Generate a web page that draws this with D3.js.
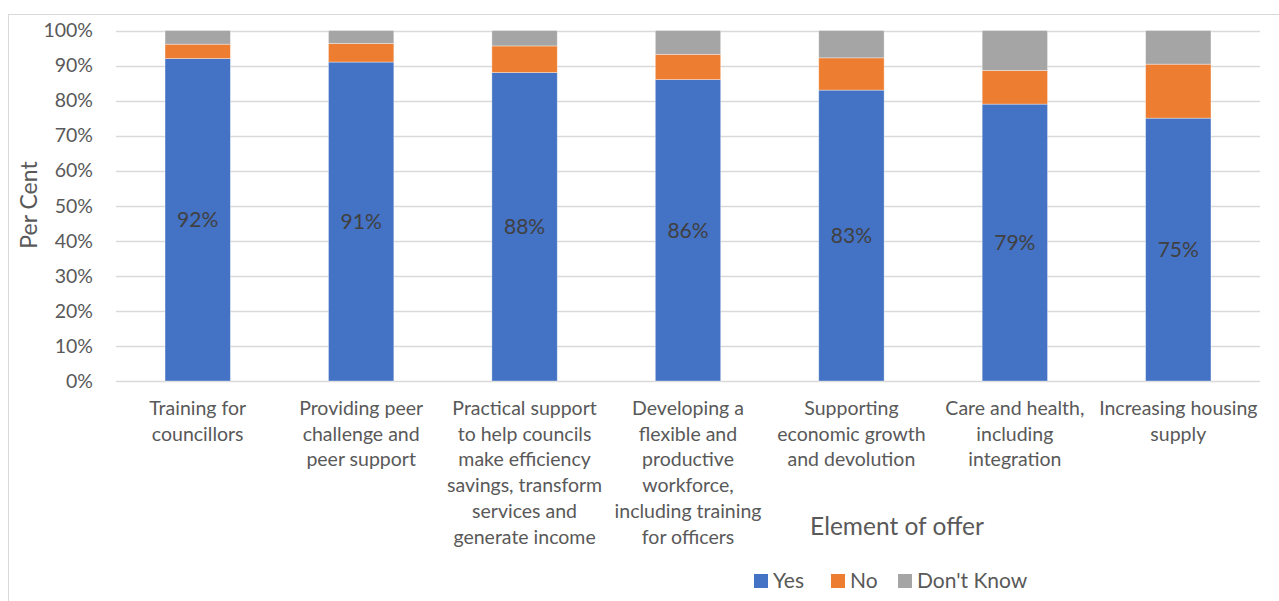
<!DOCTYPE html>
<html>
<head>
<meta charset="utf-8">
<script src="https://cdn.jsdelivr.net/npm/d3@7"></script>
<style>
  html, body { margin: 0; padding: 0; background: #fff; }
  svg { display: block; font-family: Lato, "Noto Sans", sans-serif; }
</style>
</head>
<body>
<svg id="chart" width="1279" height="601"></svg>
<script>
// Survey responses per element of the offer (percent of respondents)
const categories = [
  "Training for\ncouncillors",
  "Providing peer\nchallenge and\npeer support",
  "Practical support\nto help councils\nmake efficiency\nsavings, transform\nservices and\ngenerate income",
  "Developing a\nflexible and\nproductive\nworkforce,\nincluding training\nfor officers",
  "Supporting\neconomic growth\nand devolution",
  "Care and health,\nincluding\nintegration",
  "Increasing housing\nsupply"
];
const yesValues = [92, 91, 88, 86, 83, 79, 75];
const noValues = [4.1, 5.3, 7.6, 7.2, 9.2, 9.6, 15.4];
const dontKnowValues = [3.9, 3.7, 4.4, 6.8, 7.8, 11.4, 9.6];
const seriesNames = ["Yes", "No", "Don't Know"];
const seriesColors = ["#4472c4", "#ed7d31", "#a5a5a5"];
const yTicks = [0, 10, 20, 30, 40, 50, 60, 70, 80, 90, 100];

const rows = categories.map((c, i) => ({
  cat: c, "Yes": yesValues[i], "No": noValues[i], "Don't Know": dontKnowValues[i]
}));

const svg = d3.select("#chart");
const plot = { left: 116, right: 1260, top: 30.5, bottom: 381 };

// outer chart border
svg.append("rect")
  .attr("x", 8.5).attr("y", 14.5)
  .attr("width", 1400).attr("height", 700)
  .attr("fill", "none").attr("stroke", "#d9d9d9").attr("stroke-width", 1);

const x = d3.scaleBand()
  .domain(categories)
  .range([plot.left, plot.right])
  .paddingInner(0.6)
  .paddingOuter(0.3);

const y = d3.scaleLinear().domain([0, 100]).range([plot.bottom, plot.top]);

// gridlines
svg.append("g")
  .selectAll("line")
  .data(yTicks)
  .join("line")
  .attr("x1", plot.left).attr("x2", plot.right)
  .attr("y1", d => Math.round(y(d)) + 0.5).attr("y2", d => Math.round(y(d)) + 0.5)
  .attr("stroke", "#d9d9d9").attr("stroke-width", 1.3);

// y axis labels
const yAxis = d3.axisLeft(y).tickValues(yTicks).tickFormat(d => d + "%").tickSize(0).tickPadding(0);
const yg = svg.append("g").attr("transform", `translate(93,0)`).call(yAxis);
yg.select(".domain").remove();
yg.selectAll("text")
  .attr("fill", "#595959")
  .style("font-size", "19.5px")
  .style("font-family", "Lato, sans-serif");

// stacked bars
const stack = d3.stack().keys(seriesNames)(rows);
const color = d3.scaleOrdinal().domain(seriesNames).range(seriesColors);

svg.append("g")
  .selectAll("g")
  .data(stack)
  .join("g")
  .attr("fill", d => color(d.key))
  .selectAll("rect")
  .data(d => d)
  .join("rect")
  .attr("x", d => x(d.data.cat))
  .attr("width", x.bandwidth())
  .attr("y", d => y(d[1]))
  .attr("height", d => y(d[0]) - y(d[1]))
  .attr("stroke", "#ffffff")
  .attr("stroke-opacity", 0.45)
  .attr("stroke-width", 0.8);

// data labels on the Yes segments
svg.append("g")
  .selectAll("text")
  .data(stack[0])
  .join("text")
  .attr("x", d => x(d.data.cat) + x.bandwidth() / 2)
  .attr("y", d => (y(d[0]) + y(d[1])) / 2)
  .attr("dy", "0.35em")
  .attr("text-anchor", "middle")
  .attr("fill", "#404040")
  .style("font-size", "21px")
  .text(d => Math.round(d[1] - d[0]) + "%");

// category labels (wrapped)
const catG = svg.append("g");
categories.forEach(c => {
  const t = catG.append("text")
    .attr("text-anchor", "middle")
    .attr("fill", "#595959")
    .style("font-size", "19.5px");
  c.split("\n").forEach((line, i) => {
    t.append("tspan")
      .attr("x", x(c) + x.bandwidth() / 2)
      .attr("y", 415 + i * 25.7)
      .text(line);
  });
});

// axis titles
svg.append("text")
  .attr("transform", `translate(37,205) rotate(-90)`)
  .attr("text-anchor", "middle")
  .attr("fill", "#595959")
  .style("font-size", "23px")
  .text("Per Cent");

svg.append("text")
  .attr("x", 897).attr("y", 535)
  .attr("text-anchor", "middle")
  .attr("fill", "#595959")
  .style("font-size", "24.5px")
  .text("Element of offer");

// legend
const legendX = [754, 831, 898];
const lg = svg.append("g");
seriesNames.forEach((name, i) => {
  lg.append("rect")
    .attr("x", legendX[i]).attr("y", 574)
    .attr("width", 14).attr("height", 14)
    .attr("fill", seriesColors[i]);
  lg.append("text")
    .attr("x", legendX[i] + 19).attr("y", 588)
    .attr("fill", "#595959")
    .style("font-size", "21px")
    .text(name);
});
</script>
</body>
</html>
